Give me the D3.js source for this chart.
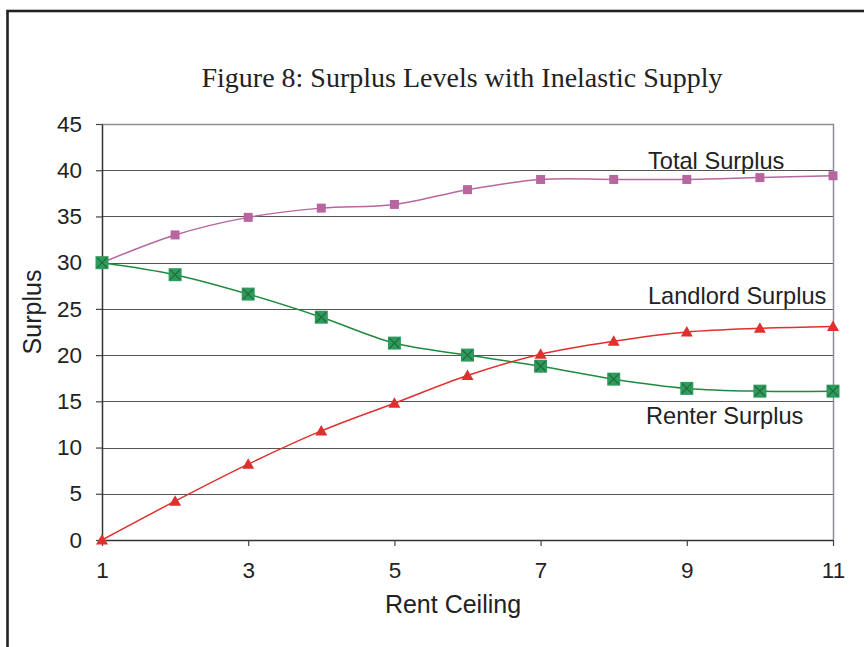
<!DOCTYPE html>
<html>
<head>
<meta charset="utf-8">
<script src="https://cdn.jsdelivr.net/npm/d3@7"></script>
<style>
  html, body { margin: 0; padding: 0; background: #fff; }
  svg { display: block; }
</style>
</head>
<body>
<svg id="chart" width="864" height="647"></svg>
<script>
// Rent ceiling levels (x) and surplus series
const rentCeiling = [1, 2, 3, 4, 5, 6, 7, 8, 9, 10, 11];
const totalSurplus = [30, 33.0, 34.9, 35.9, 36.3, 37.9, 39.0, 39.0, 39.0, 39.2, 39.4];
const landlordSurplus = [0, 4.2, 8.2, 11.8, 14.8, 17.8, 20.1, 21.5, 22.5, 22.9, 23.1];
const renterSurplus = [30, 28.7, 26.6, 24.1, 21.3, 20.0, 18.8, 17.4, 16.4, 16.1, 16.1];
const yTicks = [0, 5, 10, 15, 20, 25, 30, 35, 40, 45];
const xTicks = [1, 3, 5, 7, 9, 11];

const svg = d3.select("#chart");

// Outer frame
svg.append("rect")
  .attr("x", 7.5).attr("y", 11).attr("width", 900).attr("height", 700)
  .attr("fill", "none").attr("stroke", "#222").attr("stroke-width", 2.6);

const plotLeft = 102, plotRight = 833, plotTop = 124, plotBottom = 540;
const x = d3.scaleLinear().domain([1, 11]).range([plotLeft, plotRight]);
const y = d3.scaleLinear().domain([0, 45]).range([plotBottom, plotTop]);

// Title
svg.append("text")
  .attr("x", 462).attr("y", 87)
  .attr("text-anchor", "middle")
  .attr("font-family", "'Liberation Serif', 'Times New Roman', serif")
  .attr("font-size", 28)
  .attr("fill", "#222")
  .text("Figure 8: Surplus Levels with Inelastic Supply");

// Horizontal gridlines
svg.append("g").selectAll("line")
  .data(yTicks.filter(d => d > 0 && d < 45))
  .join("line")
  .attr("x1", plotLeft).attr("x2", plotRight)
  .attr("y1", d => Math.round(y(d)) + 0.5).attr("y2", d => Math.round(y(d)) + 0.5)
  .attr("stroke", "#555").attr("stroke-width", 1);

// Plot border (top and right)
svg.append("path")
  .attr("d", `M${plotLeft},${plotTop + 0.5}H${plotRight + 0.5}V${plotBottom}`)
  .attr("fill", "none").attr("stroke", "#8a8e92").attr("stroke-width", 1.5);

// Axes
const axisFont = "'Liberation Sans', Arial, sans-serif";
const yAxis = svg.append("g")
  .attr("transform", `translate(${plotLeft},0)`)
  .call(d3.axisLeft(y).tickValues(yTicks).tickSize(6).tickPadding(14).tickSizeOuter(0));
const xAxis = svg.append("g")
  .attr("transform", `translate(0,${plotBottom})`)
  .call(d3.axisBottom(x).tickValues(xTicks).tickSize(6).tickPadding(16).tickSizeOuter(0));

[yAxis, xAxis].forEach(g => {
  g.select(".domain").attr("stroke", "#333").attr("stroke-width", 1.5);
  g.selectAll(".tick line").attr("stroke", "#444").attr("stroke-width", 1.2);
  g.selectAll(".tick text")
    .attr("font-family", axisFont).attr("font-size", 22.5).attr("fill", "#222");
});
xAxis.selectAll(".tick text").attr("dy", "0.71em");

// Axis titles
svg.append("text")
  .attr("x", 453).attr("y", 613)
  .attr("text-anchor", "middle")
  .attr("font-family", axisFont).attr("font-size", 25).attr("fill", "#222")
  .text("Rent Ceiling");
svg.append("text")
  .attr("transform", "translate(41,312) rotate(-90)")
  .attr("text-anchor", "middle")
  .attr("font-family", axisFont).attr("font-size", 25).attr("fill", "#222")
  .text("Surplus");

const line = d3.line()
  .x(d => x(d[0])).y(d => y(d[1]))
  .curve(d3.curveCatmullRom.alpha(0));

function pairs(vals) { return rentCeiling.map((r, i) => [r, vals[i]]); }

// Total surplus
const totalColor = "#b8669f";
svg.append("path").datum(pairs(totalSurplus))
  .attr("d", line).attr("fill", "none").attr("stroke", totalColor).attr("stroke-width", 1.5);
svg.append("g").selectAll("rect").data(pairs(totalSurplus)).join("rect")
  .attr("x", d => x(d[0]) - 4.5).attr("y", d => y(d[1]) - 4.5)
  .attr("width", 9).attr("height", 9).attr("fill", totalColor);

// Renter surplus
const renterColor = "#2f9a5c";
svg.append("path").datum(pairs(renterSurplus))
  .attr("d", line).attr("fill", "none").attr("stroke", "#1f8a3e").attr("stroke-width", 1.5);
const rg = svg.append("g").selectAll("g").data(pairs(renterSurplus)).join("g")
  .attr("transform", d => `translate(${x(d[0])},${y(d[1])})`);
rg.append("rect").attr("x", -6.5).attr("y", -6.5).attr("width", 13).attr("height", 13)
  .attr("fill", renterColor);
rg.append("path").attr("d", "M-5,-5L5,5M-5,5L5,-5")
  .attr("stroke", "#1d6b3a").attr("stroke-width", 1.2);

// Landlord surplus
const landColor = "#e0302e";
svg.append("path").datum(pairs(landlordSurplus))
  .attr("d", line).attr("fill", "none").attr("stroke", landColor).attr("stroke-width", 1.5);
svg.append("g").selectAll("path").data(pairs(landlordSurplus)).join("path")
  .attr("transform", d => `translate(${x(d[0])},${y(d[1])})`)
  .attr("d", "M0,-6L6,4.5L-6,4.5Z")
  .attr("fill", landColor);

// Series labels
const labels = [
  { text: "Total Surplus", x: 648, y: 169 },
  { text: "Landlord Surplus", x: 648, y: 304 },
  { text: "Renter Surplus", x: 646, y: 424 }
];
svg.append("g").selectAll("text").data(labels).join("text")
  .attr("x", d => d.x).attr("y", d => d.y)
  .attr("font-family", axisFont).attr("font-size", 23.6).attr("fill", "#222")
  .text(d => d.text);
</script>
</body>
</html>
